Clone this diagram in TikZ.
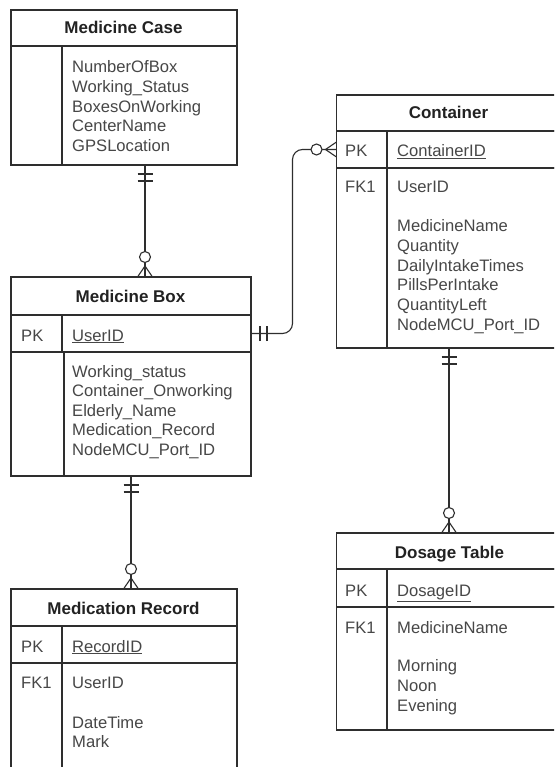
\documentclass[tikz,border=0pt]{standalone}
\usepackage{fontspec}
\setmainfont{Liberation Sans}
\definecolor{linec}{HTML}{2E2E2E}
\definecolor{headc}{HTML}{222222}
\definecolor{fieldc}{HTML}{474747}
\begin{document}
\begin{tikzpicture}[x=1pt,y=-1pt,
  cell/.style={draw=linec, line width=1.1pt, fill=white, rectangle,
    inner sep=0pt, outer sep=0pt, anchor=north west},
  rule/.style={draw=linec, line width=1.1pt},
  conn/.style={draw=linec, line width=1.1pt},
  hdr/.style={font=\fontsize{17}{20}\selectfont\bfseries, text=headc,
    anchor=base, inner sep=0pt},
  fld/.style={font=\fontsize{16.6}{19.7}\selectfont, text=fieldc,
    anchor=base west, inner sep=0pt},
  % "exactly one" end: two bars across the line, local +y points away from the entity
  mandone/.pic={\draw[conn] (-7.5,9) -- (7.5,9) (-7.5,16) -- (7.5,16);},
  % "zero or many" end: crow's foot at the entity, open circle behind it
  zeromany/.pic={\draw[conn] (-7.5,0) -- (0,-11) -- (7.5,0);
    \draw[conn, fill=white] (0,-20) circle[radius=5.5];},
]
\useasboundingbox (0,0) rectangle (554,767);
\clip (0,0) rectangle (554,767);
\fill[white] (0,0) rectangle (554,767);

% ---------- Medicine Case ----------
\node[cell, minimum width=226pt, minimum height=36pt] (case-head) at (11,10) {};
\node[cell, minimum width=226pt, minimum height=119pt] (case-body) at (11,46) {};
\draw[rule] (62,46) -- (62,165);
\node[hdr] (case-title) at (123.5,34) {Medicine Case};
\foreach \t [count=\i from 0] in {NumberOfBox, Working\_Status, BoxesOnWorking, CenterName, GPSLocation}
  \node[fld] (case-f\i) at (72,72.7+19.75*\i) {\t};

% ---------- Medicine Box ----------
\node[cell, minimum width=240pt, minimum height=38pt] (box-head) at (11,277) {};
\node[cell, minimum width=240pt, minimum height=37pt] (box-pk) at (11,315) {};
\node[cell, minimum width=240pt, minimum height=124pt] (box-body) at (11,352) {};
\draw[rule] (62,315) -- (62,352);
\draw[rule] (64,352) -- (64,476);
\node[hdr] (box-title) at (130.5,302.7) {Medicine Box};
\node[fld] (box-pkl) at (21,341) {PK};
\node[fld] (box-pkf) at (72,341) {\underline{UserID}};
\foreach \t [count=\i from 0] in {Working\_status, Container\_Onworking, Elderly\_Name, Medication\_Record, NodeMCU\_Port\_ID}
  \node[fld] (box-f\i) at (72,377.3+19.5*\i) {\t};

% ---------- Container ----------
\node[cell, minimum width=226pt, minimum height=36pt] (cont-head) at (336.5,95) {};
\node[cell, minimum width=226pt, minimum height=37pt] (cont-pk) at (336.5,131) {};
\node[cell, minimum width=226pt, minimum height=180pt] (cont-body) at (336.5,168) {};
\draw[rule] (387,131) -- (387,348);
\node[hdr] (cont-title) at (448.5,119) {Container};
\node[fld] (cont-pkl) at (345,156.5) {PK};
\node[fld] (cont-pkf) at (397,156.5) {\underline{ContainerID}};
\node[fld] (cont-fkl) at (345,193) {FK1};
\node[fld] (cont-fkf) at (397,193) {UserID};
\foreach \t [count=\i from 0] in {MedicineName, Quantity, DailyIntakeTimes, PillsPerIntake, QuantityLeft, NodeMCU\_Port\_ID}
  \node[fld] (cont-f\i) at (397,231.7+19.66*\i) {\t};

% ---------- Dosage Table ----------
\node[cell, minimum width=226pt, minimum height=36pt] (dose-head) at (336.5,533) {};
\node[cell, minimum width=226pt, minimum height=38pt] (dose-pk) at (336.5,569) {};
\node[cell, minimum width=226pt, minimum height=123pt] (dose-body) at (336.5,607) {};
\draw[rule] (387,569) -- (387,730);
\node[hdr] (dose-title) at (449.5,558) {Dosage Table};
\node[fld] (dose-pkl) at (345,596.5) {PK};
\node[fld] (dose-pkf) at (397,596.5) {\underline{DosageID}};
\node[fld] (dose-fkl) at (345,633) {FK1};
\node[fld] (dose-fkf) at (397,633) {MedicineName};
\foreach \t [count=\i from 0] in {Morning, Noon, Evening}
  \node[fld] (dose-f\i) at (397,671.7+19.8*\i) {\t};

% ---------- Medication Record ----------
\node[cell, minimum width=226pt, minimum height=37pt] (mrec-head) at (11,589) {};
\node[cell, minimum width=226pt, minimum height=37pt] (mrec-pk) at (11,626) {};
\node[cell, minimum width=226pt, minimum height=140pt] (mrec-body) at (11,663) {};
\draw[rule] (62,626) -- (62,803);
\node[hdr] (mrec-title) at (123.5,614) {Medication Record};
\node[fld] (mrec-pkl) at (21,652) {PK};
\node[fld] (mrec-pkf) at (72,652) {\underline{RecordID}};
\node[fld] (mrec-fkl) at (21,688) {FK1};
\node[fld] (mrec-fkf) at (72,688) {UserID};
\node[fld] (mrec-f0) at (72,728) {DateTime};
\node[fld] (mrec-f1) at (72,747.5) {Mark};

% ---------- Relationships ----------
% Medicine Case 1 -- 0..* Medicine Box
\draw[conn] ([xshift=134pt]case-body.south west) -- ([xshift=134pt]box-head.north west);
\pic at ([xshift=134pt]case-body.south west) {mandone};
\pic at ([xshift=134pt]box-head.north west) {zeromany};

% Medicine Box 1 -- 0..* Container
\draw[conn, rounded corners=10pt] (box-pk.east) -| ([xshift=-44pt]cont-pk.west) -- (cont-pk.west);
\pic[rotate=90] at (box-pk.east) {mandone};
\pic[rotate=90] at (cont-pk.west) {zeromany};

% Medicine Box 1 -- 0..* Medication Record
\draw[conn] ([xshift=120pt]box-body.south west) -- ([xshift=120pt]mrec-head.north west);
\pic at ([xshift=120pt]box-body.south west) {mandone};
\pic at ([xshift=120pt]mrec-head.north west) {zeromany};

% Container 1 -- 0..* Dosage Table
\draw[conn] ([xshift=112.5pt]cont-body.south west) -- ([xshift=112.5pt]dose-head.north west);
\pic at ([xshift=112.5pt]cont-body.south west) {mandone};
\pic at ([xshift=112.5pt]dose-head.north west) {zeromany};
\end{tikzpicture}
\end{document}
